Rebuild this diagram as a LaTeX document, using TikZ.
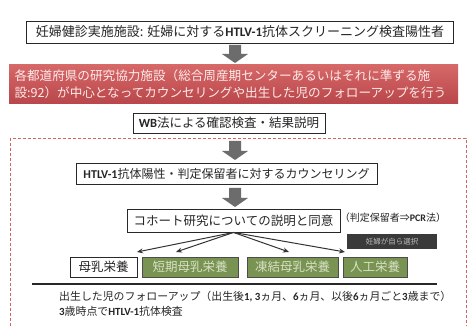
\documentclass[tikz,border=0pt]{standalone}
\usepackage{fontspec}
\setmainfont{Noto Sans CJK JP}
\newfontfamily\lat{Carlito}
\usetikzlibrary{calc,arrows.meta}
\definecolor{arrowgray}{RGB}{108,108,108}
\definecolor{redtop}{RGB}{214,104,104}
\definecolor{redbot}{RGB}{184,70,74}
\definecolor{dashred}{RGB}{210,100,100}
\definecolor{boxgreen}{RGB}{120,147,82}
\definecolor{greentext}{RGB}{215,225,195}
\definecolor{darkbox}{RGB}{58,58,58}
\definecolor{lineblack}{RGB}{40,40,40}
\newcommand\HT{{\lat\bfseries HTLV-1}}
\newcommand\barrow[3]{%
  \fill[arrowgray] (#1-6,#2) -- (#1+6,#2) -- (#1+6,#3-9) -- (#1+13,#3-9)
    -- (#1,#3) -- (#1-13,#3-9) -- (#1-6,#3-9) -- cycle;}
\tikzset{
  plainbox/.style={draw=lineblack, line width=0.9pt, fill=white, inner sep=0pt,
    font=\fontsize{12.5}{14}\selectfont, text=black!85},
  greenbox/.style={draw=black!70, line width=0.9pt, fill=boxgreen, inner sep=0pt,
    font=\fontsize{12.5}{14}\selectfont, text=greentext},
  fanarrow/.style={-{Stealth[length=6pt,width=5pt]}, line width=1pt, draw=black!80},
  follow/.style={anchor=west, inner sep=0pt, font=\fontsize{10.9}{13}\selectfont, text=black!85}
}
\begin{document}
\begin{tikzpicture}[x=1pt,y=-1pt]
\useasboundingbox (0,0) rectangle (472,326);
\fill[white] (0,0) rectangle (472,326);
% dashed frame
\begin{scope}
\clip (0,0) rectangle (472,326);
\draw[dashred, line width=0.8pt, dash pattern=on 3pt off 2pt] (10,138) rectangle (466,340);
\end{scope}
% top box
\node[plainbox, minimum width=427pt, minimum height=22pt, font=\fontsize{13}{15}\selectfont] (top) at (240,32)
  {妊婦健診実施施設: 妊婦に対する\HT 抗体スクリーニング検査陽性者};
\barrow{235}{45}{63}
% red box
\node[draw=none, inner sep=0pt, top color=redtop, bottom color=redbot,
  minimum width=449pt, minimum height=39pt, text width=438pt, align=left,
  font=\fontsize{12.6}{17}\selectfont, text=white!92!red] (red) at (233.5,84.5)
  {各都道府県の研究協力施設（総合周産期センターあるいはそれに準ずる施\\設:92）が中心となってカウンセリングや出生した児のフォローアップを行う};
% WB box
\node[plainbox, minimum width=192pt, minimum height=20pt] (wb) at (229,123)
  {{\lat\bfseries WB}法による確認検査・結果説明};
\barrow{235}{141}{160}
% HTLV box
\node[plainbox, minimum width=301pt, minimum height=21pt, font=\fontsize{12}{14}\selectfont] (htlv) at (226.5,173.5)
  {\HT 抗体陽性・判定保留者に対するカウンセリング};
\barrow{235}{188}{207}
% cohort box
\node[plainbox, minimum width=213pt, minimum height=23pt] (cohort) at (233.5,220.5)
  {コホート研究についての説明と同意};
\node[inner sep=0pt, font=\fontsize{10}{12}\selectfont, text=black!85] (pcr) at (393,218)
  {（判定保留者⇒{\lat\bfseries PCR}法）};
\node[fill=darkbox, inner sep=0pt, minimum width=90pt, minimum height=15pt,
  font=\fontsize{7.5}{9}\selectfont, text=black!25] (self) at (392,241.5) {妊婦が自ら選択};
% bottom boxes
\node[plainbox, minimum width=67pt, minimum height=20pt] (b1) at (103.5,267) {母乳栄養};
\node[greenbox, minimum width=96pt, minimum height=20pt] (b2) at (190,267) {短期母乳栄養};
\node[greenbox, minimum width=91pt, minimum height=20pt] (b3) at (292.5,267) {凍結母乳栄養};
\node[greenbox, minimum width=64pt, minimum height=20pt] (b4) at (375,267) {人工栄養};
% fan arrows
\coordinate (t1) at (137,252);
\coordinate (t2) at (176,252);
\coordinate (t3) at (289,252);
\coordinate (t4) at (345,252);
\foreach \t in {t1,t2,t3,t4} \draw[fanarrow] (cohort.south) -- (\t);
% separator line
\coordinate (l1) at (32,284);
\coordinate (l2) at (437,284);
\draw[lineblack, line width=1.1pt] (l1) -- (l2);
% follow-up text
\node[follow] (f1) at (59,297)
  {出生した児のフォローアップ（出生後{\lat\bfseries 1, 3}ヵ月、{\lat\bfseries 6}ヵ月、以後{\lat\bfseries 6}ヵ月ごと{\lat\bfseries 3}歳まで）};
\node[follow] (f2) at (59,311)
  {{\lat\bfseries 3}歳時点で\HT 抗体検査};
\end{tikzpicture}
\end{document}
